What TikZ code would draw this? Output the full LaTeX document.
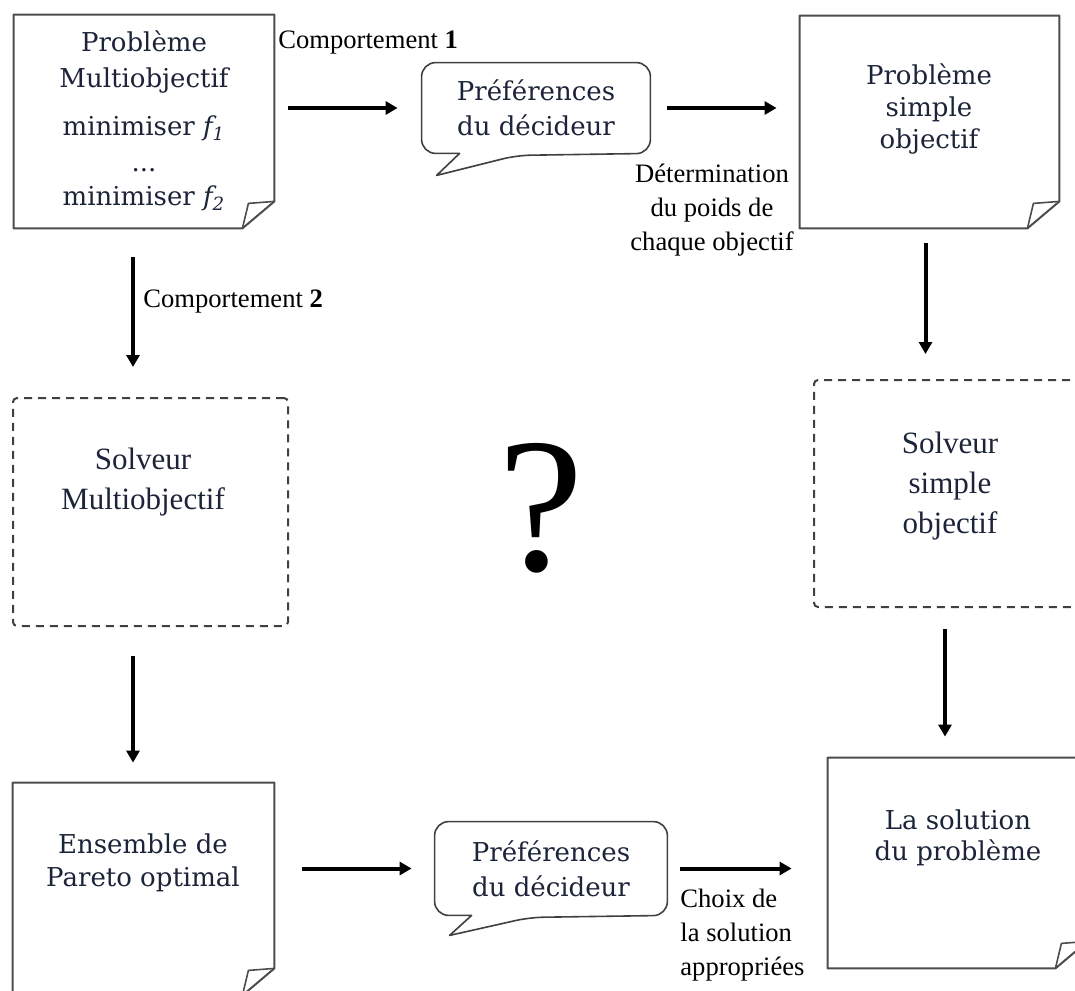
\documentclass[tikz,border=0pt]{standalone}
\usepackage{fontspec}
\setmainfont{Liberation Serif}
\newfontfamily\notefont{DejaVu Serif}
\usepackage{tikz}
\usetikzlibrary{arrows.meta,calc}
\definecolor{ink}{HTML}{1B2438}

\begin{document}
\begin{tikzpicture}[
        x=0.5pt, y=-0.5pt,
        font=\fontsize{13.3}{17}\selectfont,
        flow/.style={-{Triangle[length=6pt,width=6.5pt]}, line width=2pt},
        paper/.style={inner sep=0pt},
        papertext/.style={font=\notefont\fontsize{13}{16}\selectfont,
            text=ink, align=center},
        foldline/.style={draw=black!70, line width=1pt, line join=round},
        solvebox/.style={draw=black!75, line width=1pt,
            dash pattern=on 4pt off 3pt, rounded corners=2pt},
        solvetext/.style={font=\fontsize{15.5}{20}\selectfont, text=ink,
            align=center},
        bubble/.style={font=\notefont\fontsize{13}{17.5}\selectfont,
            text=ink, align=center},
        bubbleline/.style={draw=black!75, line width=0.8pt, line join=round},
        tag/.style={inner sep=0pt}
    ]
        \clip (0,0) rectangle (1075,990);

        % Sheets with a folded corner.
        \node[paper, minimum width=130pt, minimum height=106.5pt] (prob) at (144,121.5) {};
        \node[paper, minimum width=129.5pt, minimum height=106pt] (simple) at (929.5,122) {};
        \node[paper, minimum width=130.5pt, minimum height=106pt] (pareto) at (143.5,889) {};
        \node[paper, minimum width=129.5pt, minimum height=105pt] (sol) at (957.5,863) {};
        \foreach \n in {prob,simple,pareto,sol}{
            \draw[foldline] (\n.north west) -- (\n.north east)
                -- ($(\n.south east)+(0,-27)$) -- ($(\n.south east)+(-32,0)$)
                -- (\n.south west) -- cycle;
            \draw[foldline, line width=0.8pt] ($(\n.south east)+(-32,0)$)
                -- ($(\n.south east)+(-26,-25)$) -- ($(\n.south east)+(0,-27)$);
        }
        \node[papertext] (probtxt) at (144,121)
            {Problème\\[2pt]Multiobjectif\\[8pt]minimiser \textit{f\textsubscript{1}}\\[2pt]...\\[1pt]minimiser \textit{f\textsubscript{2}}};
        \node[papertext] (simpletxt) at (929,109) {Problème\\simple\\objectif};
        \node[papertext, font=\notefont\fontsize{13}{16.5}\selectfont] (paretotxt) at (143,863)
            {Ensemble de\\Pareto optimal};
        \node[papertext, font=\notefont\fontsize{13}{15.5}\selectfont] (soltxt) at (958,838)
            {La solution\\du problème};

        % Decision maker bubbles.
        \node[bubble, minimum width=114pt, minimum height=45pt] (bub1) at (536,108)
            {Préférences\\du décideur};
        \node[bubble, minimum width=116pt, minimum height=46.5pt] (bub2) at (551,868.5)
            {Préférences\\du décideur};
        \draw[bubbleline, rounded corners=7pt] ($(bub1.south west)+(38,0)$)
            -- (bub1.south west) -- (bub1.north west) -- (bub1.north east)
            -- (bub1.south east) -- ($(bub1.south west)+(95,2)$) [sharp corners]
            -- ($(bub1.south west)+(15,22)$) -- cycle;
        \draw[bubbleline, rounded corners=7pt] ($(bub2.south west)+(37,0)$)
            -- (bub2.south west) -- (bub2.north west) -- (bub2.north east)
            -- (bub2.south east) -- ($(bub2.south west)+(95,2)$) [sharp corners]
            -- ($(bub2.south west)+(15,20)$) -- cycle;

        % Solvers.
        \node[solvebox, minimum width=137.5pt, minimum height=114pt] (solvM) at (150.5,512) {};
        \node[solvetext] (solvMtxt) at (143,482) {Solveur\\Multiobjectif};
        \node[solvebox, minimum width=137pt, minimum height=113.5pt] (solvS) at (951,493.5) {};
        \node[solvetext] (solvStxt) at (950,486) {Solveur\\simple\\objectif};

        \node[tag, font=\fontsize{96}{96}\selectfont] (quest) at (541,508) {?};

        % Labels of the two behaviours.
        \node[tag, anchor=west] (comp1) at (278,43) {Comportement \textbf{1}};
        \node[tag, align=center] (poids) at (712,210) {Détermination\\du poids de\\chaque objectif};
        \node[tag, anchor=west] (comp2) at (143,302) {Comportement \textbf{2}};
        \node[tag, align=left, anchor=west] (choix) at (680,935) {Choix de\\la solution\\appropriées};

        \draw[flow, shorten <=7pt, shorten >=12pt] (prob.east |- bub1.west) -- (bub1.west);
        \draw[flow, shorten <=8.5pt, shorten >=11.5pt] (bub1.east) -- (bub1.east -| simple.west);
        \draw[flow, shorten <=14.5pt, shorten >=15pt] ([xshift=-5.5pt]prob.south)
            -- ([xshift=-5.5pt]prob.south |- solvM.north);
        \draw[flow, shorten <=7.5pt, shorten >=12.5pt] ([xshift=-2pt]simple.south)
            -- ([xshift=-2pt]simple.south |- solvS.north);
        \draw[flow, shorten <=14.5pt, shorten >=10pt] ([xshift=-8.75pt]solvM.south)
            -- ([xshift=-8.75pt]solvM.south |- pareto.north);
        \draw[flow, shorten <=10.5pt, shorten >=10.5pt] ([xshift=-3pt]solvS.south)
            -- ([xshift=-3pt]solvS.south |- sol.north);
        \draw[flow, shorten <=14pt, shorten >=11.5pt] (pareto.east |- bub2.west) -- (bub2.west);
        \draw[flow, shorten <=6.5pt, shorten >=18pt] (bub2.east) -- (bub2.east -| sol.west);
    \end{tikzpicture}
\end{document}
